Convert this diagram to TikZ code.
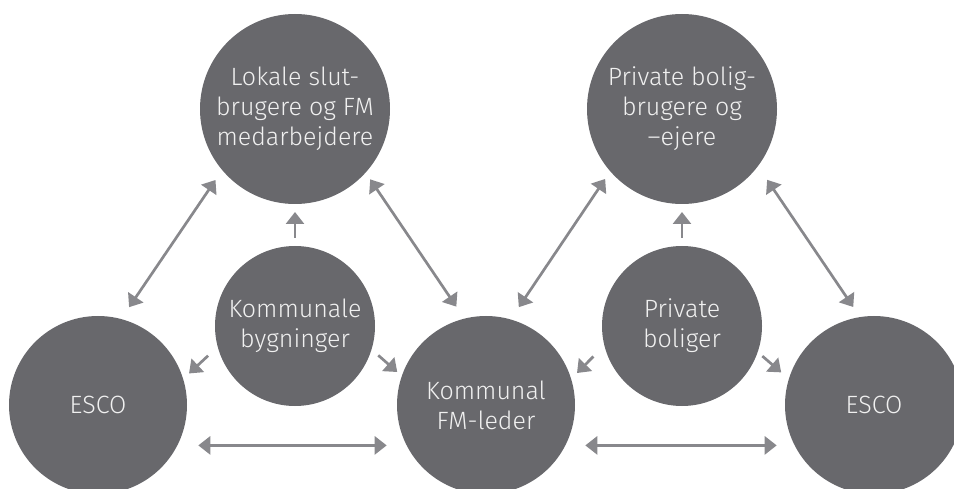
\documentclass[tikz,border=0pt]{standalone}
\usepackage{fontspec}
\setmainfont{Fira Sans Light}
\usetikzlibrary{arrows.meta}

\definecolor{bubblefill}{RGB}{104,104,108}
\definecolor{linkgray}{RGB}{136,136,140}
\definecolor{labelwhite}{RGB}{240,240,240}

\tikzset{
  bubble/.style={circle, fill=bubblefill, inner sep=0pt, outer sep=0pt,
    text=labelwhite, align=center,
    font=\fontsize{25}{30}\selectfont},
  bigbubble/.style={bubble, minimum size=190pt},
  midbubble/.style={bubble, minimum size=160pt},
  sidebubble/.style={bubble, minimum size=178pt},
  link/.style={draw=linkgray, line width=2.7pt,
    -{Triangle[length=12pt,width=18pt]}},
  twoway/.style={link, {Triangle[length=12pt,width=18pt]}-{Triangle[length=12pt,width=18pt]}}
}

\begin{document}
\begin{tikzpicture}[x=1pt, y=-1pt]
  \useasboundingbox (0,0) rectangle (954,489);

  % municipal buildings (left triangle)
  \node[bigbubble]  (lokale) at (295,109) {Lokale slut-\\brugere og FM\\medarbejdere};
  \node[midbubble]  (bygn)   at (295,326) {Kommunale\\bygninger};
  \node[sidebubble] (escoL)  at (98,405)  {ESCO};
  \node[sidebubble] (fm)     at (486,405) {Kommunal\\FM-leder};

  % private housing (right triangle)
  \node[bigbubble]  (priv)   at (682,109) {Private bolig-\\brugere og\\–ejere};
  \node[midbubble]  (bolig)  at (682,326) {Private\\boliger};
  \node[sidebubble] (escoR)  at (874,405) {ESCO};

  % left triangle connectors
  \draw[twoway, shorten <=14.3pt, shorten >=12pt] (escoL.75.7) -- (lokale.220.3);
  \draw[twoway, shorten <=8.2pt, shorten >=14.5pt] (lokale.-42.8) -- (fm.104.9);
  \draw[link, shorten <=8pt, shorten >=8pt] (bygn.north) -- (lokale.south);
  \draw[link, shorten <=13.2pt, shorten >=8.1pt] (bygn.195.4) -- (escoL.17.4);
  \draw[link, shorten <=9pt, shorten >=6.1pt] (bygn.-17.5) -- (fm.161.7);
  \draw[twoway, shorten <=21pt, shorten >=20pt] (escoL.-27.4) -- (fm.207.4);

  % right triangle connectors
  \draw[twoway, shorten <=14.8pt, shorten >=9.2pt] (fm.74.6) -- (priv.221.8);
  \draw[twoway, shorten <=16.5pt, shorten >=12.2pt] (priv.-37.1) -- (escoR.99.2);
  \draw[link, shorten <=8pt, shorten >=8pt] (bolig.north) -- (priv.south);
  \draw[link, shorten <=15.6pt, shorten >=8.4pt] (bolig.194) -- (fm.17.5);
  \draw[link, shorten <=6.2pt, shorten >=10.1pt] (bolig.-19.7) -- (escoR.163.4);
  \draw[twoway, shorten <=20pt, shorten >=18pt] (fm.-27.4) -- (escoR.207.4);
\end{tikzpicture}
\end{document}
